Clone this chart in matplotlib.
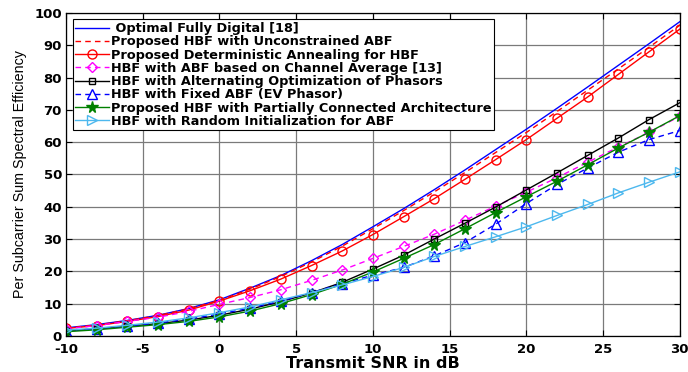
import matplotlib
matplotlib.use("Agg")
import matplotlib.pyplot as plt
import numpy as np

plt.rcParams['font.family'] = ['DejaVu Sans']
plt.rcParams['axes.unicode_minus'] = False

snr = np.arange(-10, 31, 2)

optimal = [2.5, 3.5, 4.8, 6.4, 8.5, 11.2, 14.8, 18.7, 23.3, 28.3, 33.8,
           39.4, 45.3, 51.4, 57.7, 64.0, 70.5, 77.1, 83.8, 90.5, 97.3]
unconstrained = [2.4, 3.4, 4.7, 6.3, 8.4, 11.0, 14.5, 18.4, 22.9, 27.8, 33.2,
                 38.8, 44.6, 50.6, 56.8, 63.0, 69.5, 76.1, 82.7, 89.4, 96.2]
annealing = [2.3, 3.2, 4.5, 6.0, 8.0, 10.8, 14.0, 17.6, 21.8, 26.3, 31.4,
             36.9, 42.5, 48.5, 54.6, 60.8, 67.4, 74.0, 81.0, 88.0, 95.0]
chan_avg = [2.2, 3.2, 4.5, 5.8, 7.6, 9.8, 11.9, 14.3, 17.2, 20.4, 24.0,
            27.7, 31.5, 35.8, 40.2, 44.5, 49.0, 53.8, 58.5, 63.0, 68.0]
alt_opt = [1.5, 2.2, 3.0, 3.8, 4.9, 6.4, 8.3, 10.6, 13.3, 16.6, 20.7,
           25.0, 30.0, 34.9, 39.9, 45.2, 50.5, 55.9, 61.3, 67.0, 72.2]
fixed_abf = [1.6, 2.2, 3.0, 4.0, 5.2, 6.8, 8.6, 10.8, 13.4, 16.2, 18.8,
             21.2, 24.8, 28.9, 34.6, 41.0, 46.9, 52.0, 56.9, 60.8, 63.6]
partial = [1.3, 1.9, 2.7, 3.5, 4.5, 5.9, 7.7, 10.0, 12.8, 16.0, 19.8,
           24.0, 28.3, 33.2, 38.2, 43.1, 47.9, 53.0, 58.2, 63.1, 68.2]
random_init = [1.8, 2.4, 3.3, 4.3, 5.6, 7.2, 9.0, 11.2, 13.4, 15.8, 18.4,
               21.2, 24.6, 27.7, 30.7, 33.8, 37.3, 40.7, 44.3, 47.6, 50.8]

labels = [
    ' Optimal Fully Digital [18]',
    'Proposed HBF with Unconstrained ABF',
    'Proposed Deterministic Annealing for HBF',
    'HBF with ABF based on Channel Average [13]',
    'HBF with Alternating Optimization of Phasors',
    'HBF with Fixed ABF (EV Phasor)',
    'Proposed HBF with Partially Connected Architecture',
    'HBF with Random Initialization for ABF',
]

fig = plt.figure(figsize=(6.88, 3.72), dpi=100)
ax = fig.add_axes([0.096, 0.097, 0.892, 0.868])

ms = 6.5
dash = (0, (4, 3))
ax.plot(snr, optimal, color='#0000ff', lw=1.0, label=labels[0])
ax.plot(snr, unconstrained, color='#ff0000', lw=1.0, ls=dash, label=labels[1])
ax.plot(snr, annealing, color='#ff0000', lw=1.0, marker='o', ms=ms, mfc='none', label=labels[2])
ax.plot(snr, chan_avg, color='#ff00ff', lw=1.0, ls=dash, marker='D', ms=5.5, mfc='none', label=labels[3])
ax.plot(snr, alt_opt, color='black', lw=1.0, marker='s', ms=5, mfc='none', label=labels[4])
ax.plot(snr, fixed_abf, color='#0000ff', lw=1.0, ls=dash, marker='^', ms=ms, mfc='none', label=labels[5])
ax.plot(snr, partial, color='#008000', lw=1.0, marker='*', ms=8.5, label=labels[6])
ax.plot(snr, random_init, color='#4db8ee', lw=1.0, marker='>', ms=ms, mfc='none', label=labels[7])

ax.set_xlim(-10, 30)
ax.set_ylim(0, 100)
ax.set_xticks(np.arange(-10, 31, 5))
ax.set_yticks(np.arange(0, 101, 10))
ax.grid(True, color='#7a7a7a', lw=0.9)
ax.tick_params(direction='in', top=True, right=True, labelsize=9.5, length=4)
ax.tick_params(axis='x', pad=5)
ax.tick_params(axis='y', pad=3)
for t in ax.get_xticklabels() + ax.get_yticklabels():
    t.set_fontweight('bold')
for s in ax.spines.values():
    s.set_linewidth(0.9)

ax.set_xlabel('Transmit SNR in dB', fontsize=11.5, fontweight='bold', labelpad=0)
ax.set_ylabel('Per Subcarrier Sum Spectral Efficiency', fontsize=10.3,
              family=['Liberation Sans'], labelpad=5)

leg = ax.legend(loc='upper left', prop={'weight': 'bold', 'size': 9.3},
                handlelength=2.6, handletextpad=0.2, borderpad=0.2,
                labelspacing=0.02, fancybox=False, edgecolor='black',
                framealpha=1, bbox_to_anchor=(0.0, 1.0), borderaxespad=0.5)
leg.get_frame().set_linewidth(0.8)

fig.savefig('out.png', dpi=100)
